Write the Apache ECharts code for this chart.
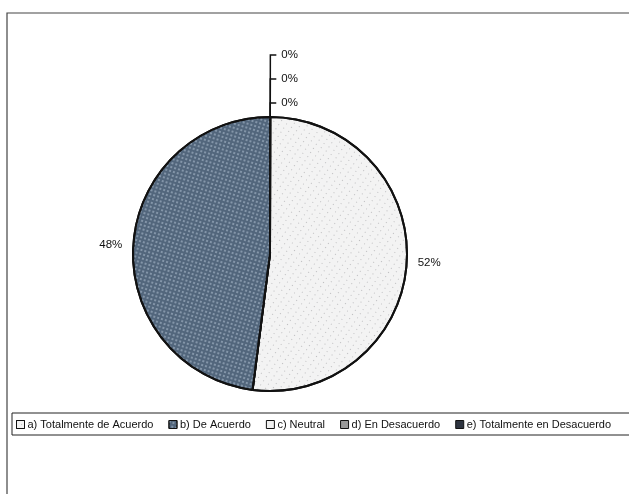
<!DOCTYPE html>
<html>
<head>
<meta charset="utf-8">
<script src="https://cdn.jsdelivr.net/npm/echarts@6/dist/echarts.min.js"></script>
<style>
  html, body { margin: 0; padding: 0; background: #fff; }
  #main { width: 629px; height: 494px; }
</style>
</head>
<body>
<div id="main"></div>
<script>
// categorias de la leyenda (orden de la leyenda)
var categorias = ['a) Totalmente de Acuerdo', 'b) De Acuerdo', 'c) Neutral', 'd) En Desacuerdo', 'e) Totalmente en Desacuerdo'];
// porcentajes
var valores = [52, 48, 0, 0, 0];
var colores = ['#f3f3f3', '#52667c', '#f0f0f0', '#9a9a9a', '#2e3440'];
// las etiquetas de 0% salen arriba con la linea vertical
var largoLinea = [0, 0, 14, 38, 62];

var myChart = echarts.init(document.getElementById('main'));

// los de valor cero van primero para que queden arriba (a las 12)
var orden = [2, 3, 4, 0, 1];
var datos = orden.map(function (i) {
    var cero = valores[i] === 0;
    var estilo = { color: colores[i] };
    if (i === 0) {
        estilo.decal = {
            symbol: 'rect', symbolSize: 0.7, color: 'rgba(30,30,40,0.7)',
            dashArrayX: [1, 5], dashArrayY: [1, 4], rotation: 0.6
        };
    } else if (i === 1) {
        estilo.decal = {
            symbol: 'circle', symbolSize: 0.9, color: 'rgba(205,220,235,0.6)',
            dashArrayX: [2, 2], dashArrayY: [2, 2], rotation: 0.3
        };
    }
    return {
        name: categorias[i],
        value: valores[i],
        itemStyle: estilo,
        labelLine: {
            show: cero,
            length: largoLinea[i],
            length2: 6
        }
    };
});

var option = {
    animation: false,
    graphic: [{
        type: 'rect',
        shape: { x: 7, y: 13, width: 700, height: 600 },
        style: { fill: 'none', stroke: '#444', lineWidth: 1.2 }
    }],
    legend: {
        data: categorias,
        left: 12,
        top: 413,
        width: 900,
        orient: 'horizontal',
        itemWidth: 8,
        itemHeight: 8,
        itemGap: 15,
        padding: [6, 30, 5, 4],
        borderColor: '#222',
        borderWidth: 1,
        borderRadius: 0,
        icon: 'rect',
        textStyle: { fontFamily: 'Liberation Sans', fontSize: 11, color: '#111', padding: [0, 0, 0, -2] },
        itemStyle: { borderColor: '#111', borderWidth: 1 }
    },
    series: [{
        type: 'pie',
        center: [270, 254],
        radius: 137,
        // un pelo menos de 90 para que las etiquetas de 0% queden a la derecha
        startAngle: 89.9,
        clockwise: true,
        avoidLabelOverlap: false,
        legendHoverLink: false,
        itemStyle: { borderColor: '#111', borderWidth: 2 },
        label: {
            show: true,
            position: 'outside',
            formatter: '{c}%',
            fontFamily: 'Liberation Sans',
            fontSize: 11.5,
            color: '#111'
        },
        labelLine: {
            lineStyle: { color: '#111', width: 1.5 }
        },
        data: datos
    }]
};

myChart.setOption(option);
window.addEventListener('resize', function () {
    myChart.resize();
});
</script>
</body>
</html>
